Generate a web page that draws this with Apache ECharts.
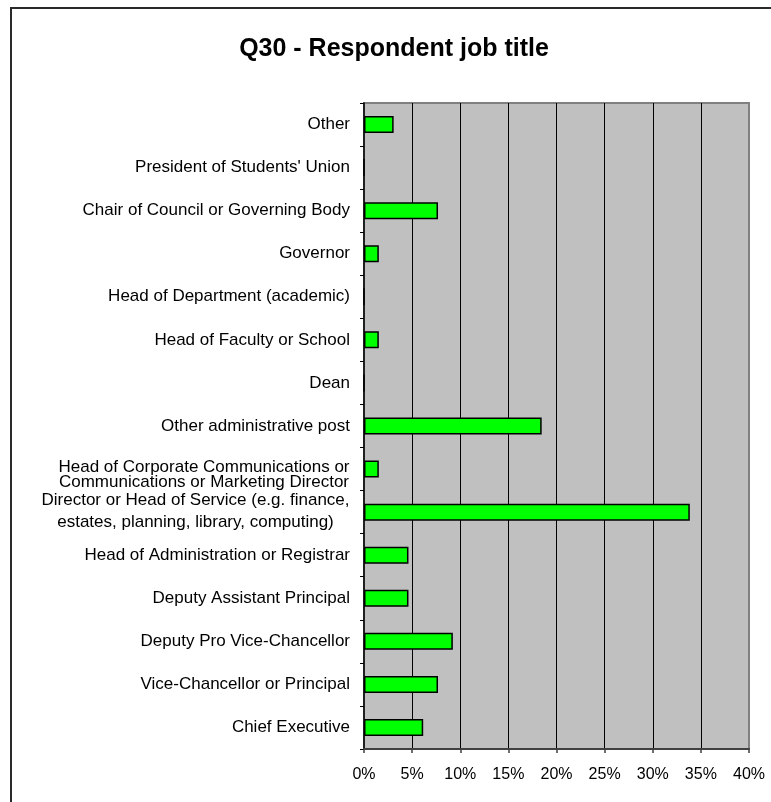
<!DOCTYPE html>
<html>
<head>
<meta charset="utf-8">
<title>Q30 - Respondent job title</title>
<script src="https://cdn.jsdelivr.net/npm/echarts@6/dist/echarts.min.js"></script>
<style>
  html, body { margin: 0; padding: 0; background: #ffffff; }
  #chart { width: 771px; height: 802px; }
</style>
</head>
<body>
<div id="chart"></div>
<script>
// Job titles, listed top to bottom as they appear on the chart
const jobTitles = [
  'Other',
  "President of Students' Union",
  'Chair of Council or Governing Body',
  'Governor',
  'Head of Department (academic)',
  'Head of Faculty or School',
  'Dean',
  'Other administrative post',
  'Head of Corporate Communications or\nCommunications or Marketing Director',
  'Director or Head of Service (e.g. finance,\nestates, planning, library, computing)',
  'Head of Administration or Registrar',
  'Deputy Assistant Principal',
  'Deputy Pro Vice-Chancellor',
  'Vice-Chancellor or Principal',
  'Chief Executive'
];

// Share of respondents (%) for each job title
const respondentShare = [
  3.08, 0, 7.69, 1.54, 0, 1.54, 0, 18.46, 1.54, 33.85, 4.62, 4.62, 9.23, 7.69, 6.15
];

// Percentage axis tick labels, one every 5 %
const percentTickLabels = ['0%', '5%', '10%', '15%', '20%', '25%', '30%', '35%', '40%'];
const tickStep = 5;

const labelFamily = '"Liberation Sans", Arial, Helvetica, sans-serif';
const labelSize = 17;

// Line heights used for the two-line labels: [first line, second line]
const wrappedLineHeights = {
  8: [26, 4],
  9: [20, 24]
};

// Measure wrapped labels so each of their lines can be centred within the block
const measureCtx = document.createElement('canvas').getContext('2d');
measureCtx.font = labelSize + 'px ' + labelFamily;
function blockWidth(text) {
  return Math.ceil(Math.max.apply(null, text.split('\n').map(function (line) {
    return measureCtx.measureText(line).width;
  })));
}

const richStyles = {};
jobTitles.forEach(function (title, i) {
  if (title.indexOf('\n') >= 0) {
    const w = blockWidth(title);
    const lh = wrappedLineHeights[i] || [18, 18];
    [0, 1].forEach(function (k) {
      richStyles['w' + i + '_' + k] = {
        width: w,
        align: 'center',
        lineHeight: lh[k],
        fontSize: labelSize,
        fontFamily: labelFamily,
        color: '#000000'
      };
    });
  }
});

const chart = echarts.init(document.getElementById('chart'), null, { renderer: 'canvas' });

chart.setOption({
  animation: false,
  backgroundColor: '#ffffff',
  graphic: [
    {
      type: 'polyline',
      z: -10,
      silent: true,
      shape: { points: [[11, 802], [11, 8], [771, 8]] },
      style: { stroke: '#2a2a2a', lineWidth: 2, fill: null }
    },
    {
      type: 'text',
      silent: true,
      x: 394,
      y: 49,
      style: {
        text: 'Q30 - Respondent job title',
        font: 'bold 25px ' + labelFamily,
        fill: '#000000',
        align: 'center',
        verticalAlign: 'middle'
      }
    }
  ],
  grid: {
    left: 364,
    right: 22,
    top: 103,
    bottom: 53,
    show: true,
    backgroundColor: '#c0c0c0',
    borderColor: '#808080',
    borderWidth: 2
  },
  xAxis: {
    type: 'value',
    min: 0,
    max: 40,
    interval: tickStep,
    axisLine: { show: true, lineStyle: { color: '#404040', width: 2 } },
    axisTick: { show: true, length: 4, lineStyle: { color: '#404040', width: 1.5 } },
    axisLabel: {
      margin: 18,
      fontSize: 16,
      fontFamily: labelFamily,
      color: '#000000',
      formatter: function (value) {
        return percentTickLabels[Math.round(value / tickStep)];
      }
    },
    splitLine: {
      show: true,
      showMinLine: false,
      showMaxLine: false,
      lineStyle: { color: '#000000', width: 1 }
    }
  },
  yAxis: {
    type: 'category',
    inverse: true,
    data: jobTitles,
    axisLine: { show: true, lineStyle: { color: '#000000', width: 1.5 } },
    axisTick: { show: true, length: 4, lineStyle: { color: '#000000', width: 1 } },
    axisLabel: {
      interval: 0,
      margin: 14,
      fontSize: labelSize,
      fontFamily: labelFamily,
      color: '#000000',
      formatter: function (value, index) {
        if (value.indexOf('\n') < 0) return value;
        return value.split('\n').map(function (line, k) {
          return '{w' + index + '_' + k + '|' + line + '}';
        }).join('\n');
      },
      rich: richStyles
    },
    splitLine: { show: false }
  },
  series: [
    {
      type: 'bar',
      data: respondentShare,
      barWidth: 17,
      itemStyle: {
        color: '#00ff00',
        borderColor: '#000000',
        borderWidth: 1.5
      }
    }
  ]
});
</script>
</body>
</html>
